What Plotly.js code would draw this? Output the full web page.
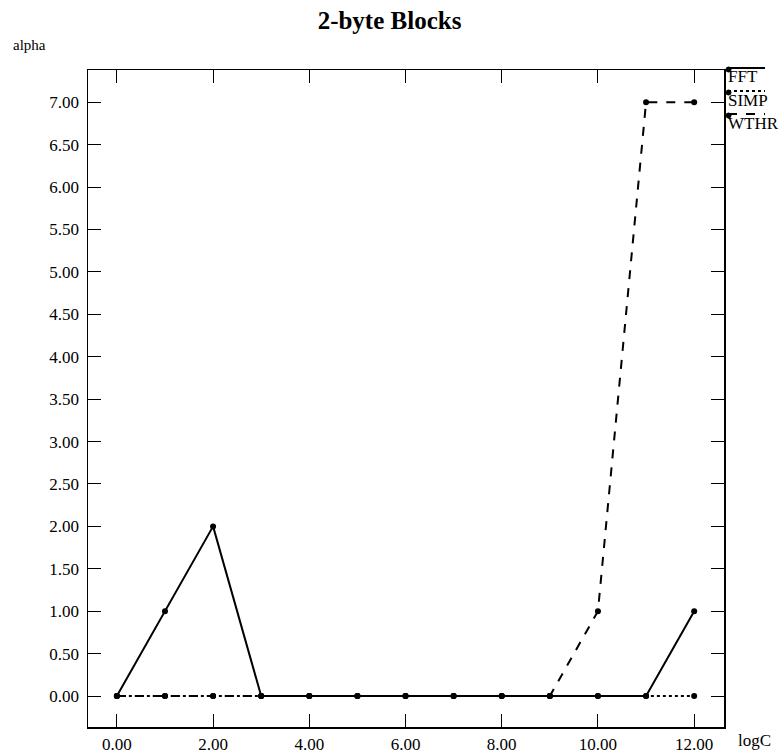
<!DOCTYPE html>
<html>
<head>
<meta charset="utf-8">
<script src="https://cdn.plot.ly/plotly-3.0.1.min.js"></script>
<style>
  html, body { margin: 0; padding: 0; background: #fff; }
  #chart { width: 779px; height: 755px; }
</style>
</head>
<body>
<div id="chart"></div>
<script>
// log of cache size (x) and alpha values per benchmark
const logC = [0, 1, 2, 3, 4, 5, 6, 7, 8, 9, 10, 11, 12];
const fft  = [0, 1, 2, 0, 0, 0, 0, 0, 0, 0, 0, 0, 1];
const simp = [0, 0, 0, 0, 0, 0, 0, 0, 0, 0, 0, 0, 0];
const wthr = [0, 0, 0, 0, 0, 0, 0, 0, 0, 0, 1, 7, 7];
const seriesNames = ['FFT', 'SIMP', 'WTHR'];
const dashes = ['solid', 'dot', 'dash'];

const FONT = 'Liberation Serif, Times New Roman, serif';
const PLOT_TOP = 70, PLOT_H = 657;
const py = p => 1 - (p - PLOT_TOP) / PLOT_H;   // pixel row -> paper y
const px = p => (p - 88) / 636;                 // pixel column -> paper x

function trace(y, i) {
  return {
    x: logC, y: y, name: seriesNames[i], type: 'scatter', mode: 'lines+markers',
    line: { color: '#000', width: 2, dash: dashes[i] },
    marker: { color: '#000', size: 6 },
    showlegend: false
  };
}

// draw order: dotted underneath, then dashed, then solid on top
const data = [trace(simp, 1), trace(wthr, 2), trace(fft, 0)];

// hand-built legend to the right of the plot: line sample above each name
const shapes = [];
const annotations = [];
seriesNames.forEach((n, i) => {
  const lineRow = 68 + 23 * i;
  shapes.push({
    type: 'line', xref: 'paper', yref: 'paper',
    x0: px(728), x1: px(765), y0: py(lineRow), y1: py(lineRow),
    line: { color: '#000', width: 2, dash: dashes[i] }
  });
  shapes.push({
    type: 'circle', xref: 'paper', yref: 'paper',
    x0: px(726), x1: px(731), y0: py(lineRow + 4), y1: py(lineRow - 1),
    fillcolor: '#000', line: { color: '#000', width: 1 }
  });
  annotations.push({
    text: n, xref: 'paper', yref: 'paper', x: px(726), y: py(lineRow + 9),
    xanchor: 'left', yanchor: 'middle', showarrow: false,
    font: { family: FONT, size: 17, color: '#000' }
  });
});
annotations.push({
  text: 'alpha', xref: 'paper', yref: 'paper', x: px(11), y: py(45),
  xanchor: 'left', yanchor: 'middle', showarrow: false,
  font: { family: FONT, size: 15, color: '#000' }
});
annotations.push({
  text: 'logC', xref: 'paper', yref: 'paper', x: px(736), y: py(740),
  xanchor: 'left', yanchor: 'middle', showarrow: false,
  font: { family: FONT, size: 17, color: '#000' }
});

const layout = {
  width: 779, height: 755,
  margin: { l: 88, r: 55, t: 70, b: 28 },
  paper_bgcolor: '#fff', plot_bgcolor: '#fff',
  font: { family: FONT, size: 17, color: '#000' },
  title: {
    text: '<b>2-byte Blocks</b>', x: 0.5, xref: 'container', y: 0.973, yanchor: 'middle',
    font: { family: FONT, size: 25, color: '#000' }
  },
  xaxis: {
    range: [-0.6, 12.62], tickvals: [0, 2, 4, 6, 8, 10, 12], tickformat: '.2f',
    showgrid: false, zeroline: false, showline: true, linecolor: '#000', linewidth: 1.5,
    mirror: 'ticks', ticks: 'inside', ticklen: 13, tickcolor: '#000', tickwidth: 1,
    ticklabelstandoff: 1
  },
  yaxis: {
    range: [-0.365, 7.38], tick0: 0, dtick: 0.5, tickformat: '.2f',
    showgrid: false, zeroline: false, showline: true, linecolor: '#000', linewidth: 1.5,
    mirror: 'ticks', ticks: 'inside', ticklen: 13, tickcolor: '#000', tickwidth: 1,
    ticklabelstandoff: 4
  },
  shapes: shapes,
  annotations: annotations
};

Plotly.newPlot('chart', data, layout, { staticPlot: true, displayModeBar: false });
</script>
</body>
</html>
